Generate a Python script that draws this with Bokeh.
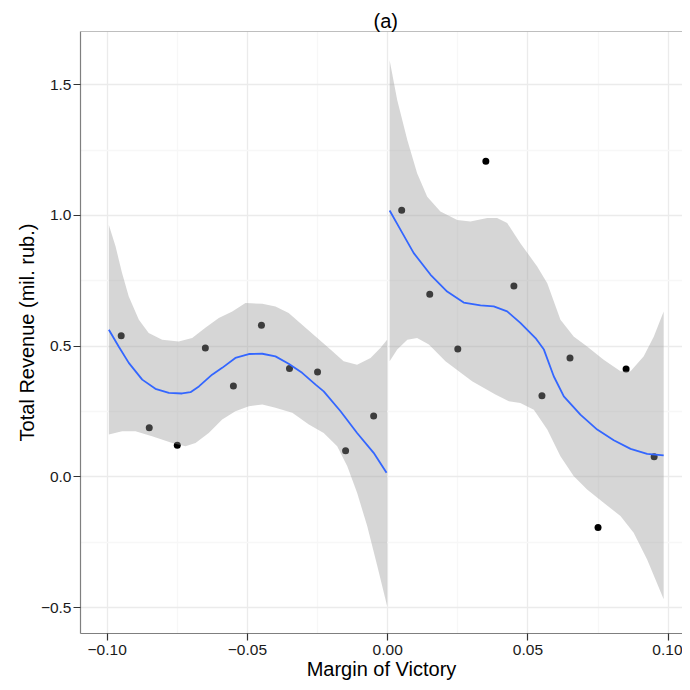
from bokeh.plotting import figure
from bokeh.models import Range1d, FixedTicker, Span
from bokeh.embed import file_html
from bokeh.resources import INLINE

# ---------------- data ----------------
x_left_pts = [-0.095, -0.085, -0.075, -0.065, -0.055, -0.045, -0.035, -0.025, -0.015, -0.005]
y_left_pts = [0.540, 0.188, 0.121, 0.493, 0.348, 0.580, 0.415, 0.401, 0.100, 0.233]
x_right_pts = [0.005, 0.015, 0.025, 0.035, 0.045, 0.055, 0.065, 0.075, 0.085, 0.095]
y_right_pts = [1.020, 0.699, 0.489, 1.207, 0.730, 0.310, 0.455, -0.194, 0.413, 0.077]

# loess fit, left of the cutoff
fit_left_x = [-0.0994, -0.0959, -0.0923, -0.0875, -0.0828, -0.0780, -0.0733, -0.0703, -0.0673,
              -0.0626, -0.0590, -0.0543, -0.0495, -0.0447, -0.0400, -0.0353, -0.0305, -0.0257,
              -0.0228, -0.0168, -0.0109, -0.0050, -0.0004]
fit_left_y = [0.563, 0.499, 0.436, 0.372, 0.337, 0.321, 0.319, 0.324, 0.346,
              0.391, 0.417, 0.455, 0.470, 0.471, 0.461, 0.433, 0.398, 0.353,
              0.327, 0.251, 0.168, 0.092, 0.016]
upper_left_x = [-0.0994, -0.0970, -0.0947, -0.0923, -0.0887, -0.0852, -0.0804, -0.0745, -0.0697,
                -0.0650, -0.0602, -0.0554, -0.0507, -0.0447, -0.0400, -0.0353, -0.0305, -0.0257,
                -0.0204, -0.0157, -0.0109, -0.0061, -0.0026, -0.0002]
upper_left_y = [0.964, 0.881, 0.780, 0.690, 0.601, 0.550, 0.525, 0.518, 0.531,
                0.570, 0.608, 0.633, 0.665, 0.662, 0.652, 0.627, 0.582, 0.537,
                0.487, 0.442, 0.429, 0.455, 0.493, 0.525]
lower_left_x = [-0.0994, -0.0947, -0.0899, -0.0840, -0.0768, -0.0721, -0.0685, -0.0638, -0.0590,
                -0.0543, -0.0495, -0.0447, -0.0400, -0.0340, -0.0281, -0.0228, -0.0180, -0.0144,
                -0.0109, -0.0073, -0.0037, -0.0002]
lower_left_y = [0.162, 0.175, 0.175, 0.155, 0.130, 0.117, 0.130, 0.168, 0.219,
                0.251, 0.270, 0.277, 0.264, 0.245, 0.200, 0.168, 0.117, 0.041,
                -0.061, -0.188, -0.341, -0.494]

# loess fit, right of the cutoff
fit_right_x = [0.0007, 0.0046, 0.0093, 0.0153, 0.0212, 0.0271, 0.0331, 0.0378, 0.0426, 0.0473,
               0.0527, 0.0557, 0.0592, 0.0628, 0.0687, 0.0747, 0.0806, 0.0866, 0.0925, 0.0984]
fit_right_y = [1.019, 0.945, 0.856, 0.773, 0.709, 0.667, 0.656, 0.652, 0.633, 0.589,
               0.531, 0.487, 0.385, 0.308, 0.238, 0.181, 0.140, 0.107, 0.088, 0.082]
upper_right_x = [0.0007, 0.0034, 0.0070, 0.0105, 0.0141, 0.0188, 0.0248, 0.0295, 0.0355, 0.0390,
                 0.0426, 0.0473, 0.0533, 0.0569, 0.0616, 0.0663, 0.0711, 0.0770, 0.0830, 0.0866,
                 0.0913, 0.0949, 0.0984]
upper_right_y = [1.594, 1.442, 1.289, 1.162, 1.072, 1.015, 0.983, 0.977, 0.990, 0.990,
                 0.971, 0.894, 0.805, 0.741, 0.601, 0.537, 0.499, 0.448, 0.404, 0.404,
                 0.461, 0.537, 0.633]
lower_right_x = [0.0007, 0.0034, 0.0070, 0.0105, 0.0147, 0.0206, 0.0301, 0.0384, 0.0432, 0.0473,
                 0.0521, 0.0569, 0.0616, 0.0663, 0.0711, 0.0770, 0.0830, 0.0877, 0.0925, 0.0984]
lower_right_y = [0.442, 0.487, 0.525, 0.531, 0.506, 0.442, 0.366, 0.315, 0.289, 0.283,
                 0.257, 0.181, 0.079, 0.003, -0.048, -0.099, -0.150, -0.214, -0.316, -0.468]

x_ticks = [-0.10, -0.05, 0.0, 0.05, 0.10]
x_tick_labels = ["\u22120.10", "\u22120.05", "0.00", "0.05", "0.10"]
x_minor = [-0.075, -0.025, 0.025, 0.075]
y_ticks = [-0.5, 0.0, 0.5, 1.0, 1.5]
y_tick_labels = ["\u22120.5", "0.0", "0.5", "1.0", "1.5"]
y_minor = [-0.25, 0.25, 0.75, 1.25]

FONT = "Liberation Sans"
Y_TOP = 1.7038

p = figure(width=682, height=682, output_backend="svg", toolbar_location=None,
           x_range=Range1d(-0.10951, 0.10511), y_range=Range1d(-0.5992, Y_TOP),
           min_border_left=80, min_border_right=0, min_border_top=31, min_border_bottom=48)

p.background_fill_color = "white"
p.border_fill_color = "white"
p.outline_line_color = None

# grid
p.xgrid.ticker = FixedTicker(ticks=x_ticks, minor_ticks=x_minor)
p.ygrid.ticker = FixedTicker(ticks=y_ticks, minor_ticks=y_minor)
for g in (p.xgrid, p.ygrid):
    g.grid_line_color = "#ebebeb"
    g.grid_line_width = 1.3
    g.minor_grid_line_color = "#f7f7f7"
    g.minor_grid_line_width = 1.3

# axes
p.xaxis.ticker = FixedTicker(ticks=x_ticks, minor_ticks=x_minor)
p.yaxis.ticker = FixedTicker(ticks=y_ticks, minor_ticks=y_minor)
p.xaxis.major_label_overrides = {t: l for t, l in zip(x_ticks, x_tick_labels)}
p.yaxis.major_label_overrides = {t: l for t, l in zip(y_ticks, y_tick_labels)}
p.xaxis.axis_label = "Margin of Victory"
p.yaxis.axis_label = "Total Revenue (mil. rub.)"
for ax in (p.xaxis, p.yaxis):
    ax.axis_line_color = "#7f7f7f"
    ax.axis_line_width = 1.2
    ax.major_tick_line_color = "#333333"
    ax.major_tick_line_width = 1.2
    ax.major_tick_out = 7
    ax.major_tick_in = 0
    ax.minor_tick_out = 0
    ax.minor_tick_in = 0
    ax.major_label_text_font = FONT
    ax.major_label_text_font_size = "15.5px"
    ax.major_label_text_color = "#1a1a1a"
    ax.axis_label_text_font = FONT
    ax.axis_label_text_font_size = "20px"
    ax.axis_label_text_font_style = "normal"
    ax.axis_label_text_color = "black"
p.xaxis.major_label_standoff = 4
p.yaxis.major_label_standoff = 2
p.xaxis.axis_label_standoff = 0
p.yaxis.axis_label_standoff = 0

# top border of the panel
p.add_layout(Span(location=Y_TOP, dimension="width", line_color="#7f7f7f", line_width=1.2))

# title
p.title.text = "(a)"
p.title.align = "left"
p.title.offset = 293
p.title.text_font = FONT
p.title.text_font_size = "20px"
p.title.text_font_style = "normal"
p.title.text_color = "black"
p.title.standoff = 0

# points (drawn first, ribbon overlays them as in ggplot)
p.scatter(x_left_pts, y_left_pts, size=7, color="black", line_color=None)
p.scatter(x_right_pts, y_right_pts, size=7, color="black", line_color=None)

# confidence ribbons
for ux, uy, lx, ly in ((upper_left_x, upper_left_y, lower_left_x, lower_left_y),
                       (upper_right_x, upper_right_y, lower_right_x, lower_right_y)):
    px = list(ux) + list(lx[::-1])
    py = list(uy) + list(ly[::-1])
    p.patch(px, py, fill_color="#999999", fill_alpha=0.4, line_color=None)

# fitted lines
p.line(fit_left_x, fit_left_y, line_color="#3366FF", line_width=1.8)
p.line(fit_right_x, fit_right_y, line_color="#3366FF", line_width=1.8)

open("out.html", "w").write(file_html(p, INLINE))
